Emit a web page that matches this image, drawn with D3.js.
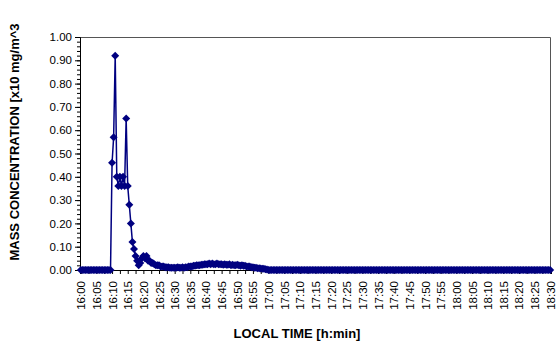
<!DOCTYPE html>
<html>
<head>
<meta charset="utf-8">
<script src="https://cdn.jsdelivr.net/npm/d3@7"></script>
<style>
  body { margin: 0; background: #fff; }
  svg { display: block; }
  text { font-family: "Liberation Sans", Arial, sans-serif; }
</style>
</head>
<body>
<div id="app"></div>
<script>
// tick labels on the time axis, one every 5 minutes
const tickLabels = [
  '16:00', '16:05', '16:10', '16:15', '16:20', '16:25', '16:30', '16:35', '16:40', '16:45', '16:50',
  '16:55', '17:00', '17:05', '17:10', '17:15', '17:20', '17:25', '17:30', '17:35', '17:40', '17:45',
  '17:50', '17:55', '18:00', '18:05', '18:10', '18:15', '18:20', '18:25', '18:30'
];

// samples every 30 s from 16:00:00, [x10 mg/m^3]
const sampleMinutes = 0.5;
const concentration = [
  0, 0, 0, 0, 0, 0, 0, 0, 0, 0,                                            // 16:00
  0, 0, 0, 0, 0, 0, 0, 0, 0, 0,                                            // 16:05
  0.46, 0.57, 0.92, 0.40, 0.36, 0.40, 0.36, 0.40, 0.36, 0.65,              // 16:10
  0.36, 0.28, 0.20, 0.12, 0.09, 0.06, 0.04, 0.02, 0.03, 0.05,              // 16:15
  0.06, 0.05, 0.06, 0.04, 0.04, 0.03, 0.03, 0.025, 0.02, 0.02,             // 16:20
  0.02, 0.015, 0.015, 0.015, 0.012, 0.012, 0.012, 0.01, 0.01, 0.01,        // 16:25
  0.01, 0.01, 0.012, 0.01, 0.01, 0.012, 0.01, 0.012, 0.012, 0.015,         // 16:30
  0.015, 0.015, 0.018, 0.018, 0.02, 0.02, 0.02, 0.022, 0.022, 0.025,       // 16:35
  0.025, 0.025, 0.028, 0.025, 0.028, 0.025, 0.025, 0.028, 0.025, 0.025,    // 16:40
  0.025, 0.022, 0.025, 0.022, 0.022, 0.025, 0.02, 0.022, 0.02, 0.02,       // 16:45
  0.022, 0.02, 0.018, 0.02, 0.018, 0.018, 0.015, 0.015, 0.015, 0.012,      // 16:50
  0.012, 0.01, 0.01, 0.008, 0.008, 0.006, 0.005, 0.005, 0.003, 0.002,      // 16:55
  0, 0, 0, 0, 0, 0, 0, 0, 0, 0,                                            // 17:00
  0, 0, 0, 0, 0, 0, 0, 0, 0, 0,
  0, 0, 0, 0, 0, 0, 0, 0, 0, 0,
  0, 0, 0, 0, 0, 0, 0, 0, 0, 0,
  0, 0, 0, 0, 0, 0, 0, 0, 0, 0,
  0, 0, 0, 0, 0, 0, 0, 0, 0, 0,                                            // 17:25
  0, 0, 0, 0, 0, 0, 0, 0, 0, 0,
  0, 0, 0, 0, 0, 0, 0, 0, 0, 0,
  0, 0, 0, 0, 0, 0, 0, 0, 0, 0,
  0, 0, 0, 0, 0, 0, 0, 0, 0, 0,
  0, 0, 0, 0, 0, 0, 0, 0, 0, 0,
  0, 0, 0, 0, 0, 0, 0, 0, 0, 0,                                            // 17:55
  0, 0, 0, 0, 0, 0, 0, 0, 0, 0,
  0, 0, 0, 0, 0, 0, 0, 0, 0, 0,
  0, 0, 0, 0, 0, 0, 0, 0, 0, 0,
  0, 0, 0, 0, 0, 0, 0, 0, 0, 0,
  0, 0, 0, 0, 0, 0, 0, 0, 0, 0,
  0, 0, 0, 0, 0, 0, 0, 0, 0, 0,                                            // 18:25
  0                                                                        // 18:30
];

const yMajorTicks = [0, 0.1, 0.2, 0.3, 0.4, 0.5, 0.6, 0.7, 0.8, 0.9, 1.0];

const svgWidth = 556;
const svgHeight = 341;
const margin = { top: 37, right: 5, bottom: 71, left: 80 };
const navy = '#000080';
const fontFamily = '"Liberation Sans", Arial, sans-serif';

const svg = d3.select('#app')
  .append('svg')
  .attr('width', svgWidth)
  .attr('height', svgHeight);

const lastMinute = (concentration.length - 1) * sampleMinutes;

// category axis: each sample sits in the middle of its slot
const xScale = d3.scaleLinear()
  .domain([-sampleMinutes / 2, lastMinute + sampleMinutes / 2])
  .range([margin.left, svgWidth - margin.right]);

const yScale = d3.scaleLinear()
  .domain([0, 1])
  .range([svgHeight - margin.bottom, margin.top]);

// plot area border (top and right)
svg.append('path')
  .attr('d', `M${margin.left},${margin.top + 0.5}H${svgWidth - margin.right - 0.5}V${svgHeight - margin.bottom}`)
  .attr('fill', 'none')
  .attr('stroke', '#555')
  .attr('stroke-width', 1);

// y axis: minor ticks then major ticks with labels
svg.append('g')
  .attr('transform', `translate(${margin.left}, 0)`)
  .call(d3.axisLeft(yScale).tickValues(d3.range(0, 1.001, 0.02)).tickSize(3).tickFormat(''))
  .call(g => g.select('.domain').remove());

svg.append('g')
  .attr('id', 'y-axis')
  .attr('transform', `translate(${margin.left}, 0)`)
  .call(d3.axisLeft(yScale).tickValues(yMajorTicks).tickSize(5).tickPadding(3).tickFormat(d3.format('.2f')))
  .call(g => g.selectAll('text').attr('font-size', 11.5).attr('fill', '#000').style('font-family', fontFamily))
  .call(g => g.selectAll('line, path').attr('stroke', '#000'));

// x axis: small ticks every 2.5 min, labels every 5 min
const labelMinutes = tickLabels.map((_, i) => i * 5);

svg.append('g')
  .attr('transform', `translate(0, ${svgHeight - margin.bottom})`)
  .call(d3.axisBottom(xScale).tickValues(d3.range(0, lastMinute + 0.01, 2.5)).tickSize(4).tickFormat(''))
  .call(g => g.selectAll('line, path').attr('stroke', '#000'));

svg.append('g')
  .attr('id', 'x-axis')
  .attr('transform', `translate(0, ${svgHeight - margin.bottom})`)
  .call(d3.axisBottom(xScale).tickValues(labelMinutes).tickSize(0).tickFormat((d, i) => tickLabels[i]))
  .call(g => g.select('.domain').remove())
  .call(g => g.selectAll('text')
    .attr('font-size', 11.5)
    .attr('fill', '#000')
    .style('font-family', fontFamily)
    .attr('transform', 'rotate(-90)')
    .attr('text-anchor', 'end')
    .attr('x', -11)
    .attr('y', 0)
    .attr('dy', '0.35em'));

// series
const line = d3.line()
  .x((d, i) => xScale(i * sampleMinutes))
  .y(d => yScale(d));

svg.append('path')
  .datum(concentration)
  .attr('fill', 'none')
  .attr('stroke', navy)
  .attr('stroke-width', 1.5)
  .attr('d', line);

const diamond = d3.symbol(d3.symbolSquare, 32)();

svg.append('g')
  .selectAll('path')
  .data(concentration)
  .enter()
  .append('path')
  .attr('d', diamond)
  .attr('fill', navy)
  .attr('transform', (d, i) => `translate(${xScale(i * sampleMinutes)}, ${yScale(d)}) rotate(45)`);

// axis titles
svg.append('text')
  .attr('x', 297)
  .attr('y', 338)
  .attr('text-anchor', 'middle')
  .attr('font-size', 13)
  .attr('font-weight', 'bold')
  .text('LOCAL TIME [h:min]');

svg.append('text')
  .attr('transform', `translate(19, 142) rotate(-90)`)
  .attr('text-anchor', 'middle')
  .attr('font-size', 13)
  .attr('font-weight', 'bold')
  .text('MASS CONCENTRATION [x10 mg/m^3');
</script>
</body>
</html>
